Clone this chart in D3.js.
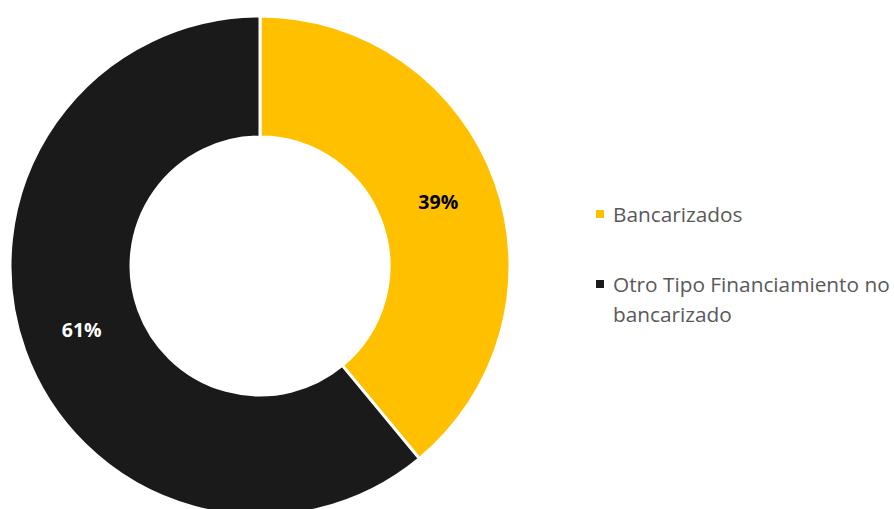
<!DOCTYPE html>
<html><head><meta charset="utf-8">
<script src="https://cdn.jsdelivr.net/npm/d3@7"></script>
<style>body{margin:0;background:#fff}svg{display:block}</style>
</head><body>
<svg id="c" width="894" height="509"></svg>
<script>
const categories = ["Bancarizados", "Otro Tipo Financiamiento no bancarizado"];
const values = [39, 61];
const labels = ["39%", "61%"];
const colors = ["#FFC000", "#1A1A1A"];
const labelColors = ["#000000", "#FFFFFF"];
const legendLines = [["Bancarizados"], ["Otro Tipo Financiamiento no", "bancarizado"]];

const svg = d3.select("#c");
const cx = 260, cy = 266, rOut = 250, rIn = 129;
const pie = d3.pie().sort(null).value(d => d)(values);
const arc = d3.arc().innerRadius(rIn).outerRadius(rOut);
const g = svg.append("g").attr("transform", `translate(${cx},${cy})`);
g.selectAll("path").data(pie).join("path")
  .attr("d", arc).attr("fill", (d, i) => colors[i])
  .attr("stroke", "#fff").attr("stroke-width", 3).attr("stroke-linejoin", "miter");
g.selectAll("text").data(pie).join("text")
  .attr("transform", d => `translate(${arc.centroid(d)})`)
  .attr("text-anchor", "middle").attr("dy", "0.35em")
  .attr("font-family", "Open Sans, sans-serif").attr("font-weight", "bold")
  .attr("font-size", 19.5).attr("fill", (d, i) => labelColors[i])
  .text((d, i) => labels[i]);

const leg = svg.append("g");
const legY = [222, 292];
legendLines.forEach((lines, i) => {
  leg.append("rect").attr("x", 596).attr("y", legY[i] - 12).attr("width", 8).attr("height", 8)
    .attr("fill", colors[i]);
  const t = leg.append("text").attr("x", 613).attr("y", legY[i])
    .attr("font-family", "Open Sans, sans-serif").attr("font-size", 20.8).attr("fill", "#595959");
  lines.forEach((l, j) => t.append("tspan").attr("x", 613).attr("y", legY[i] + j * 30).text(l));
});
</script>
</body></html>
